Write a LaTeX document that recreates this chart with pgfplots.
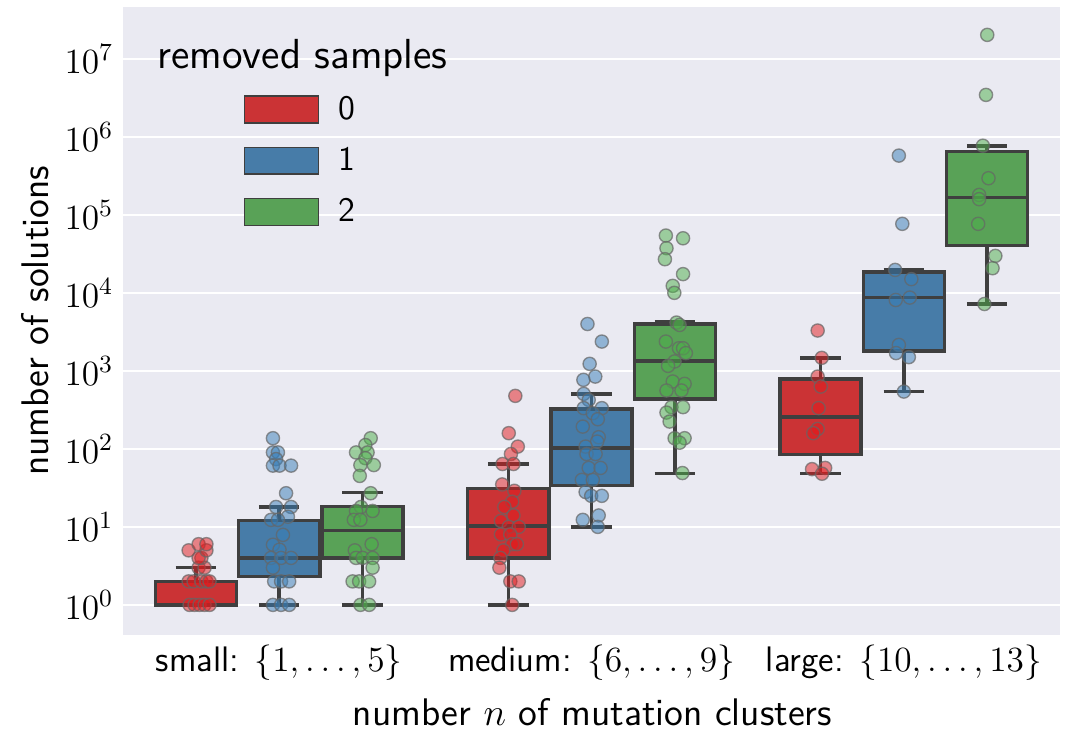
\RequirePackage{fix-cm}
\documentclass[border=0pt]{standalone}
\usepackage{pgfplots}
\pgfplotsset{compat=1.18}
\definecolor{bg}{HTML}{EAEAF2}
\definecolor{boxr}{HTML}{CB3335}
\definecolor{boxb}{HTML}{477CA8}
\definecolor{boxg}{HTML}{59A257}
\definecolor{ptr}{HTML}{E41A1C}
\definecolor{ptb}{HTML}{377EB8}
\definecolor{ptg}{HTML}{4DAF4A}
\definecolor{edge}{HTML}{3F3F3F}
\pgfplotsset{
  bx/.style={fill=#1, draw=edge, line width=1.25pt, line join=miter, mark=none, forget plot},
  wk/.style={draw=edge, line width=1.25pt, mark=none, unbounded coords=jump, forget plot},
  mypts/.style={only marks, mark=*, mark size=2.4pt,
    mark options={fill=#1, fill opacity=0.5, draw=gray!80!black, draw opacity=0.7, line width=0.5pt}, forget plot},
}
\begin{document}
\begin{tikzpicture}[font=\sffamily]
\begin{axis}[
  name=ax,
  scale only axis, width=341.2pt, height=228.7pt,
  ymode=log, ymin=0.412, ymax=4.64e7,
  xmin=-0.5, xmax=2.5,
  xtick={0,1,2},
  xticklabels={{small: $\{1,\dots,5\}$},{medium: $\{6,\dots,9\}$},{large: $\{10,\dots,13\}$}},
  ytick={1,10,100,1000,10000,100000,1000000,10000000},
  axis background/.style={fill=bg},
  axis line style={draw=none},
  tick style={draw=none},
  major tick length=0pt, minor tick length=0pt,
  ymajorgrids, grid style={white, line width=0.8pt},
  ylabel={number of solutions},
  xlabel={number $n$ of mutation clusters},
  label style={font=\sffamily\fontsize{14}{16.5}\selectfont},
  ylabel style={at={(axis description cs:-0.0939,0.5)}, anchor=center},
  xlabel style={at={(axis description cs:0.501,-0.1226)}, anchor=center},
  ticklabel style={font=\sffamily\fontsize{12.9}{15}\selectfont},
  legend style={at={(0.128,0.868)}, anchor=north west, draw=none, fill=none,
    inner sep=0pt, row sep=4.7pt, column sep=5pt, font=\sffamily\fontsize{12.5}{14}\selectfont},
  legend cell align=left,
]
\addlegendimage{legend image code/.code={\draw[fill=boxr,draw=edge,line width=0.5pt] (0pt,-4.9pt) rectangle (27pt,4.9pt);}}
\addlegendentry{0}
\addlegendimage{legend image code/.code={\draw[fill=boxb,draw=edge,line width=0.5pt] (0pt,-4.9pt) rectangle (27pt,4.9pt);}}
\addlegendentry{1}
\addlegendimage{legend image code/.code={\draw[fill=boxg,draw=edge,line width=0.5pt] (0pt,-4.9pt) rectangle (27pt,4.9pt);}}
\addlegendentry{2}

% ---- boxes (x: box edges, y: quartiles), whiskers, caps, medians ----
% small, 0 removed: lw=1 q1=1 med=1 q3=2 uw=3
\addplot[bx=boxr] coordinates {(-0.3967,1) (-0.1367,1) (-0.1367,2) (-0.3967,2)} --cycle;
\addplot[wk] coordinates {(-0.2667,2) (-0.2667,3) (-0.2667,nan) (-0.3317,3) (-0.2017,3) (-0.2667,nan) (-0.3967,1) (-0.1367,1)};
% small, 1 removed: lw=1 q1=2.3 med=4 q3=12 uw=18
\addplot[bx=boxb] coordinates {(-0.13,2.3) (0.13,2.3) (0.13,12) (-0.13,12)} --cycle;
\addplot[wk] coordinates {(0,12) (0,18) (0,nan) (-0.065,18) (0.065,18) (0,nan) (0,2.3) (0,1) (0,nan) (-0.065,1) (0.065,1) (0,nan) (-0.13,4) (0.13,4)};
% small, 2 removed: lw=1 q1=4 med=9 q3=18.2 uw=27.5
\addplot[bx=boxg] coordinates {(0.1367,4) (0.3967,4) (0.3967,18.2) (0.1367,18.2)} --cycle;
\addplot[wk] coordinates {(0.2667,18.2) (0.2667,27.5) (0.2667,nan) (0.2017,27.5) (0.3317,27.5) (0.2667,nan) (0.2667,4) (0.2667,1) (0.2667,nan) (0.2017,1) (0.3317,1) (0.2667,nan) (0.1367,9) (0.3967,9)};
% medium, 0: lw=1 q1=4 med=10.3 q3=31 uw=64
\addplot[bx=boxr] coordinates {(0.6033,4) (0.8633,4) (0.8633,31) (0.6033,31)} --cycle;
\addplot[wk] coordinates {(0.7333,31) (0.7333,64) (0.7333,nan) (0.6683,64) (0.7983,64) (0.7333,nan) (0.7333,4) (0.7333,1) (0.7333,nan) (0.6683,1) (0.7983,1) (0.7333,nan) (0.6033,10.3) (0.8633,10.3)};
% medium, 1: lw=10 q1=34 med=102 q3=323 uw=507
\addplot[bx=boxb] coordinates {(0.87,34) (1.13,34) (1.13,323) (0.87,323)} --cycle;
\addplot[wk] coordinates {(1,323) (1,507) (1,nan) (0.935,507) (1.065,507) (1,nan) (1,34) (1,10) (1,nan) (0.935,10) (1.065,10) (1,nan) (0.87,102) (1.13,102)};
% medium, 2: lw=48 q1=437 med=1330 q3=3990 uw=4270
\addplot[bx=boxg] coordinates {(1.1367,437) (1.3967,437) (1.3967,3990) (1.1367,3990)} --cycle;
\addplot[wk] coordinates {(1.2667,3990) (1.2667,4270) (1.2667,nan) (1.2017,4270) (1.3317,4270) (1.2667,nan) (1.2667,437) (1.2667,48) (1.2667,nan) (1.2017,48) (1.3317,48) (1.2667,nan) (1.1367,1330) (1.3967,1330)};
% large, 0: lw=48 q1=84 med=255 q3=789 uw=1468
\addplot[bx=boxr] coordinates {(1.6033,84) (1.8633,84) (1.8633,789) (1.6033,789)} --cycle;
\addplot[wk] coordinates {(1.7333,789) (1.7333,1468) (1.7333,nan) (1.6683,1468) (1.7983,1468) (1.7333,nan) (1.7333,84) (1.7333,48) (1.7333,nan) (1.6683,48) (1.7983,48) (1.7333,nan) (1.6033,255) (1.8633,255)};
% large, 1: lw=543 q1=1800 med=8700 q3=18600 uw=20000
\addplot[bx=boxb] coordinates {(1.87,1800) (2.13,1800) (2.13,18600) (1.87,18600)} --cycle;
\addplot[wk] coordinates {(2,18600) (2,20000) (2,nan) (1.935,20000) (2.065,20000) (2,nan) (2,1800) (2,543) (2,nan) (1.935,543) (2.065,543) (2,nan) (1.87,8700) (2.13,8700)};
% large, 2: lw=7200 q1=40400 med=168000 q3=646000 uw=767000
\addplot[bx=boxg] coordinates {(2.1367,40400) (2.3967,40400) (2.3967,646000) (2.1367,646000)} --cycle;
\addplot[wk] coordinates {(2.2667,646000) (2.2667,767000) (2.2667,nan) (2.2017,767000) (2.3317,767000) (2.2667,nan) (2.2667,40400) (2.2667,7200) (2.2667,nan) (2.2017,7200) (2.3317,7200) (2.2667,nan) (2.1367,168000) (2.3967,168000)};

% points: small red
\addplot[mypts=ptr] table {
x y
-0.287 1
-0.271 1
-0.255 1
-0.239 1
-0.223 1
-0.290 2
-0.274 2
-0.249 2
-0.233 2
-0.223 2
-0.258 3
-0.239 3
-0.249 4
-0.258 4
-0.290 5
-0.233 5
-0.258 6
-0.233 6
};
% small blue
\addplot[mypts=ptb] table {
x y
-0.020 137
-0.020 90
-0.004 90
-0.010 74
-0.020 61
0.001 61
0.038 61
0.022 27
0.038 18
-0.010 18
0.028 13.5
-0.026 12.3
-0.004 12.3
0.012 7.9
-0.020 5.9
0.001 5.1
-0.026 4
0.006 4
0.038 4
-0.020 3
-0.016 2
0.006 2
0.032 2
-0.020 1
0.006 1
0.032 1
};
% small green
\addplot[mypts=ptg] table {
x y
0.293 137
0.276 112
0.246 90
0.283 90
0.276 76
0.260 62
0.303 62
0.258 45
0.293 27
0.262 18
0.246 16
0.299 16
0.239 12.3
0.260 12.3
0.296 6
0.242 5
0.246 4
0.267 4
0.299 4
0.299 3
0.235 2
0.256 2
0.288 2
0.260 1
0.288 1
};
% medium red
\addplot[mypts=ptr] table {
x y
0.756 478
0.735 159
0.764 107
0.742 86
0.715 64
0.750 64
0.714 35
0.753 29
0.746 21
0.721 18
0.750 14
0.710 11.9
0.735 10
0.767 10
0.710 8
0.740 8
0.746 6
0.761 6
0.718 5
0.708 4
0.705 3
0.740 2
0.767 2
0.746 1
};
% medium blue
\addplot[mypts=ptb] table {
x y
0.987 3990
1.033 2375
0.994 1230
1.012 845
0.974 767
0.975 507
0.991 424
0.975 333
1.033 333
1.004 287
1.020 240
0.972 193
1.023 141
1.018 124
0.981 107
0.984 86
1.013 86
0.991 57
1.029 57
0.969 40
1.004 40
0.981 28
0.999 25
1.033 25
1.023 14
0.972 12.3
1.020 10
};
% medium green
\addplot[mypts=ptg] table {
x y
1.238 54300
1.293 50100
1.240 37400
1.235 27000
1.293 17400
1.260 12300
1.265 10000
1.272 4160
1.282 3880
1.238 2375
1.280 1950
1.293 1950
1.302 1690
1.266 1320
1.245 1160
1.260 730
1.298 681
1.240 560
1.288 560
1.256 343
1.293 343
1.240 292
1.250 224
1.266 137
1.298 137
1.282 120
1.291 49
};
% large red
\addplot[mypts=ptr] table {
x y
1.724 3290
1.737 1468
1.724 845
1.734 630
1.727 333
1.724 180
1.710 159
1.706 55
1.748 57
1.738 48
};
% large blue
\addplot[mypts=ptb] table {
x y
1.984 575000
1.995 76700
1.972 19700
2.024 15000
2.019 8700
1.974 8100
1.984 2150
1.975 1690
2.016 1500
2.000 543
};
% large green
\addplot[mypts=ptg] table {
x y
2.267 20300000
2.263 3450000
2.253 770000
2.271 295000
2.241 180000
2.241 159000
2.238 76700
2.293 29800
2.284 20700
2.258 7200
};
\node[font=\sffamily\fontsize{15.3}{18}\selectfont] at (rel axis cs:0.1916,0.919) {removed samples};
\end{axis}
\pgfresetboundingbox
\path ([shift={(-44.8pt,-34.2pt)}]ax.south west) rectangle ([shift={(4pt,2.5pt)}]ax.north east);
\end{tikzpicture}
\end{document}
